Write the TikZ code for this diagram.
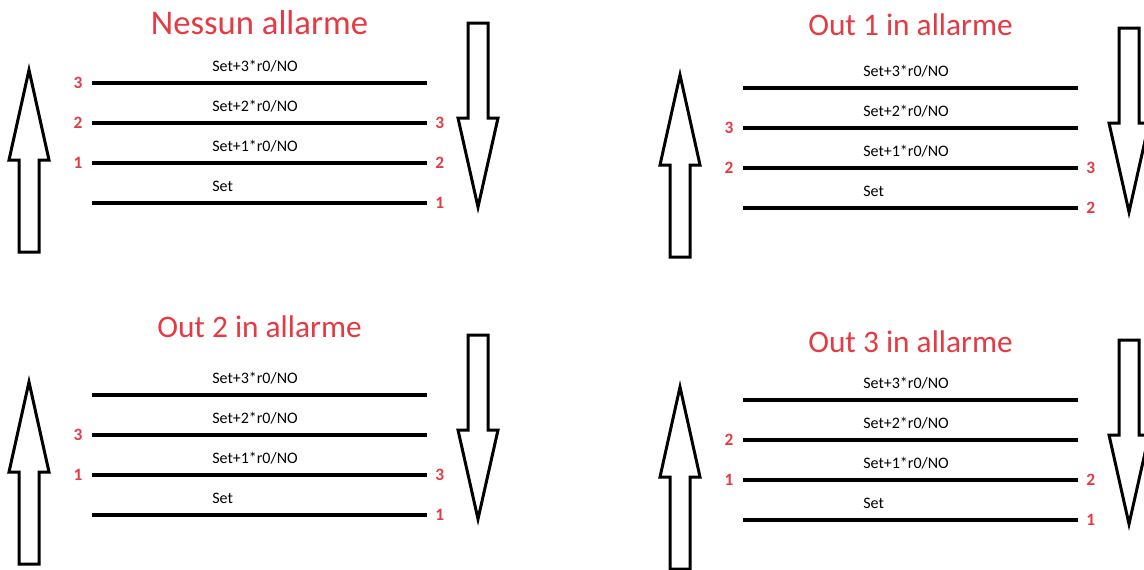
\documentclass[tikz,border=0pt]{standalone}
\usepackage{fontspec}
\setmainfont{Carlito}
\usetikzlibrary{positioning}
\definecolor{alarmred}{HTML}{E63A43}

% one panel: #1 name, #2/#3 left end of the top line, #4 title, #5 title baseline,
% #6 numbers on the left (line/number), #7 numbers on the right
\newcommand{\alarmpanel}[7]{%
  \node[ttl] (#1-title) at (#2+167.5,#5) {#4};
  \foreach \i/\txt in {0/{Set+3*r0/NO},1/{Set+2*r0/NO},2/{Set+1*r0/NO},3/{Set}} {
    \coordinate (#1-w\i) at (#2,#3+40*\i);
    \coordinate (#1-e\i) at (#2+335,#3+40*\i);
    \draw[level] (#1-w\i) -- (#1-e\i);
    \node[lbl] (#1-t\i) at (#2+120,#3+40*\i-12) {\txt};
  }
  \foreach \i/\n in {#6} \node[num, left=7pt of #1-w\i] (#1-ln\i) {\n};
  \foreach \i/\n in {#7} \node[num, right=6pt of #1-e\i] (#1-rn\i) {\n};
  % rising and falling arrows
  \draw[blockarrow] (#2-63,#3-13) -- (#2-43,#3+77) -- (#2-53,#3+77) -- (#2-53,#3+169)
    -- (#2-73,#3+169) -- (#2-73,#3+77) -- (#2-83,#3+77) -- cycle;
  \draw[blockarrow] (#2+376,#3-60) -- (#2+396,#3-60) -- (#2+396,#3+35) -- (#2+406,#3+35)
    -- (#2+386,#3+124) -- (#2+366,#3+35) -- (#2+376,#3+35) -- cycle;
}

\begin{document}
\begin{tikzpicture}[
  x=0.75pt, y=-0.75pt,
  level/.style={line width=3pt},
  blockarrow/.style={draw=black, line width=2.25pt, fill=white},
  ttl/.style={anchor=base, text=alarmred, font=\fontsize{23.5}{28}\selectfont},
  lbl/.style={anchor=base west, inner sep=0pt, font=\fontsize{12}{14}\selectfont},
  num/.style={inner sep=0pt, text=alarmred, font=\fontsize{13}{15}\selectfont\bfseries}
]
  \useasboundingbox[fill=white] (0,0) rectangle (1144,569);
  \clip (0,0) rectangle (1144,569);

  \alarmpanel{p1}{92}{83}{\fontsize{26}{30}\selectfont Nessun allarme}{34}{0/3,1/2,2/1}{1/3,2/2,3/1}
  \alarmpanel{p2}{743}{88}{Out 1 in allarme}{35}{1/3,2/2}{2/3,3/2}
  \alarmpanel{p3}{92}{395}{Out 2 in allarme}{337}{1/3,2/1}{2/3,3/1}
  \alarmpanel{p4}{743}{400}{Out 3 in allarme}{352}{1/2,2/1}{2/2,3/1}
\end{tikzpicture}
\end{document}
